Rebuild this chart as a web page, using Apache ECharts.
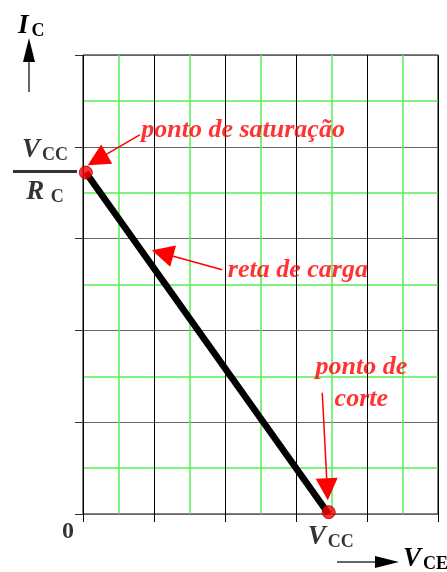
<!DOCTYPE html>
<html>
<head>
<meta charset="utf-8">
<script src="https://cdn.jsdelivr.net/npm/echarts@6/dist/echarts.min.js"></script>
<style>
  html, body { margin: 0; padding: 0; background: #fff; }
  #chart { width: 447px; height: 572px; }
</style>
</head>
<body>
<div id="chart"></div>
<script>
// reta de carga: do ponto de saturação ao ponto de corte
const loadLine = [[0.04, 3.72], [3.46, 0]]
const keyPoints = [[0.04, 3.72], [3.46, 0.02]]
// setas das anotações: [cauda, centro da ponta]
const arrowLines = [
  [[0.80, 4.13], [0.20, 3.86]],
  [[1.96, 2.66], [1.12, 2.84]],
  [[3.37, 1.32], [3.44, 0.27]],
]
const noteTexts = ['ponto de saturação', 'reta de carga', 'ponto de\ncorte']
const notePos = [[0.82, 4.18], [2.04, 2.66], [3.92, 1.42]]

const serif = '"Liberation Serif", "DejaVu Serif", serif'
const red = '#ff0000'

const chart = echarts.init(document.getElementById('chart'))

const option = {
  animation: false,
  grid: {
    left: 83, top: 55, width: 355, height: 459,
    show: true, borderColor: '#000', borderWidth: 1,
  },
  xAxis: {
    type: 'value', min: 0, max: 5, interval: 1,
    axisLine: { show: false },
    axisTick: { show: true, length: 8, lineStyle: { color: '#000' } },
    axisLabel: { show: false },
    splitLine: { lineStyle: { color: '#000', width: 1 } },
    minorTick: { show: false, splitNumber: 2 },
    minorSplitLine: { show: true, lineStyle: { color: '#55ee55', width: 1.5 } },
  },
  yAxis: {
    type: 'value', min: 0, max: 5, interval: 1,
    axisLine: { show: false },
    axisTick: { show: true, length: 8, lineStyle: { color: '#333' } },
    axisLabel: { show: false },
    splitLine: { lineStyle: { color: '#666', width: 1 } },
    minorTick: { show: false, splitNumber: 2 },
    minorSplitLine: { show: true, lineStyle: { color: '#55ee55', width: 1.5 } },
  },
  graphic: [
    // eixo Ic
    { type: 'line', shape: { x1: 29, y1: 92, x2: 29, y2: 58 }, style: { stroke: '#333', lineWidth: 1.5 } },
    { type: 'polygon', shape: { points: [[29, 38], [23, 62], [35, 62]] }, style: { fill: '#000' } },
    {
      type: 'text', x: 18, y: 12,
      style: {
        text: '{i|I}{c|C}',
        rich: {
          i: { fontFamily: serif, fontStyle: 'italic', fontWeight: 'bold', fontSize: 27, fill: '#000' },
          c: { fontFamily: serif, fontWeight: 'bold', fontSize: 18, fill: '#000', padding: [10, 0, 0, 3] },
        },
      },
    },
    // eixo Vce
    { type: 'line', shape: { x1: 337, y1: 562, x2: 378, y2: 562 }, style: { stroke: '#333', lineWidth: 1.5 } },
    { type: 'polygon', shape: { points: [[399, 562], [375, 556], [375, 568]] }, style: { fill: '#000' } },
    {
      type: 'text', x: 403, y: 545,
      style: {
        text: '{i|V}{c|CE}',
        rich: {
          i: { fontFamily: serif, fontStyle: 'italic', fontWeight: 'bold', fontSize: 27, fill: '#000' },
          c: { fontFamily: serif, fontWeight: 'bold', fontSize: 18, fill: '#000', padding: [10, 0, 0, 2] },
        },
      },
    },
  ],
  series: [
    {
      type: 'line', data: loadLine, symbol: 'none', z: 3,
      lineStyle: { color: '#000', width: 6.5 },
    },
    {
      type: 'lines', coordinateSystem: 'cartesian2d', z: 4,
      data: arrowLines.map(c => ({ coords: c })),
      symbol: ['none', 'path://M5,0 L10,22 L0,22 Z'],
      symbolSize: [11, 22],
      lineStyle: { color: red, width: 1.5, opacity: 1 },
    },
    {
      type: 'scatter', data: keyPoints, symbol: 'circle', symbolSize: 13, z: 5,
      itemStyle: { color: red, borderColor: '#900', borderWidth: 1 },
    },
    {
      // textos das anotações
      type: 'scatter', symbolSize: 0, z: 6,
      data: notePos.map((p, i) => ({ value: p, name: noteTexts[i] })),
      label: {
        show: true, formatter: '{b}', color: red,
        fontFamily: serif, fontStyle: 'italic', fontWeight: 'bold', fontSize: 26,
      },
    },
    {
      // rótulos dos eixos
      type: 'scatter', symbolSize: 0, z: 6,
      data: [
        { value: [0, 0], label: { position: 'left', formatter: '0', offset: [-4, 18] } },
        { value: [3.46, 0], label: { position: 'bottom', formatter: '{v|V}{s|CC}', offset: [2, 0] } },
        {
          value: [0, 3.72],
          label: { position: 'left', distance: 6, align: 'center', formatter: '{v|V}{s|CC}\n{bar|}\n{v|R}{s| C}', offset: [-32, -1] },
        },
      ],
      label: {
        show: true, color: '#000',
        fontFamily: serif, fontWeight: 'bold', fontSize: 24,
        rich: {
          v: { fontFamily: serif, fontStyle: 'italic', fontWeight: 'bold', fontSize: 27, lineHeight: 36, color: '#000' },
          s: { fontFamily: serif, fontWeight: 'bold', fontSize: 18, color: '#000', padding: [10, 0, 0, 2] },
          bar: { width: 64, height: 3, lineHeight: 6, backgroundColor: '#000' },
        },
      },
    },
  ],
}

// posição individual dos textos das anotações
option.series[3].data[0].label = { position: 'right', distance: 0 }
option.series[3].data[1].label = { position: 'right', distance: 0 }
option.series[3].data[2].label = { position: 'inside', align: 'center', lineHeight: 32 }

chart.setOption(option)
</script>
</body>
</html>
